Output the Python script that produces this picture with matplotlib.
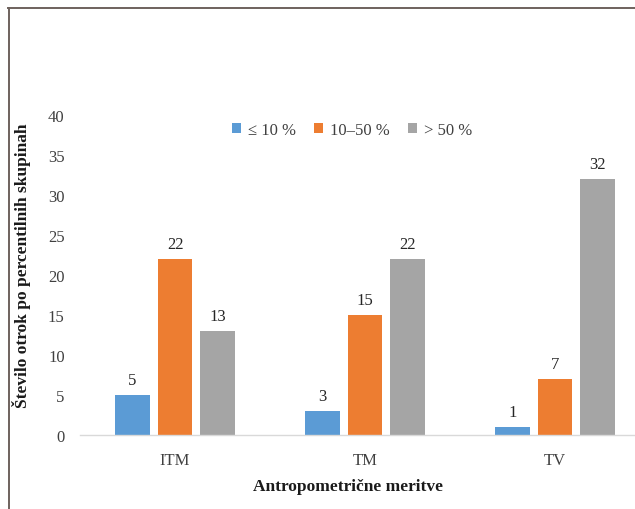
import numpy as np
import matplotlib.pyplot as plt
from matplotlib.lines import Line2D

# data
categories = ['ITM', 'TM', 'TV']
series_names = ['\u2264 10 %', '10\u201350 %', '> 50 %']
le10 = [5, 3, 1]
mid = [22, 15, 7]
gt50 = [13, 22, 32]
colors = ['#5B9BD5', '#ED7D31', '#A5A5A5']

plt.rcParams['font.family'] = ['Liberation Serif', 'DejaVu Serif']

fig = plt.figure(figsize=(6.35, 5.1), dpi=100)
ax = fig.add_axes([80/635, 74/510, 570/635, 320/510])

x = np.arange(len(categories))
width = 0.184
step = 0.225
for i, (vals, name) in enumerate(zip([le10, mid, gt50], series_names)):
    bars = ax.bar(x + (i - 1) * step, vals, width, color=colors[i], label=name)
    for b, v in zip(bars, vals):
        ax.annotate(str(v), (b.get_x() + b.get_width() / 2, v), xytext=(0, 5),
                    textcoords='offset points', ha='center', va='bottom',
                    fontsize=12, color='#262626')

ax.set_xlim(-0.5, 2.5)
ax.set_ylim(0, 40)
ax.set_yticks(range(0, 41, 5))
ax.set_xticks(x)
ax.set_xticklabels(categories)
ax.tick_params(axis='both', length=0, labelsize=12, colors='#404040')
ax.tick_params(axis='y', pad=11)
ax.tick_params(axis='x', pad=12)
for s in ['left', 'right', 'top']:
    ax.spines[s].set_visible(False)
ax.spines['bottom'].set_color('#d9d9d9')
ax.spines['bottom'].set_linewidth(1.0)

ax.set_ylabel('\u0160tevilo otrok po percentilnih skupinah', fontsize=12.5,
              fontweight='bold', color='#1a1a1a')
ax.yaxis.set_label_coords((22 - 80) / 570, (436 - 266) / 320)
ax.set_xlabel('Antropometri\u010dne meritve', fontsize=12.5, fontweight='bold',
              color='#1a1a1a')
ax.xaxis.set_label_coords((348 - 80) / 570, -(487 - 436) / 320)
ax.xaxis.label.set_va('center')
ax.yaxis.label.set_va('center')

leg = ax.legend(loc='center', bbox_to_anchor=((352 - 80) / 570, (436 - 131) / 320),
                ncol=3, frameon=False, fontsize=12, handlelength=0.55,
                handleheight=0.55, handletextpad=0.4, columnspacing=1.1)
for t in leg.get_texts():
    t.set_color('#404040')

# outer frame lines
fig.add_artist(Line2D([8/635, 1], [1 - 9/510, 1 - 9/510], color='#6e625d', lw=1.4))
fig.add_artist(Line2D([9/635, 9/635], [0, 1 - 9/510], color='#6e625d', lw=1.4))

fig.savefig('out.png', dpi=100)
